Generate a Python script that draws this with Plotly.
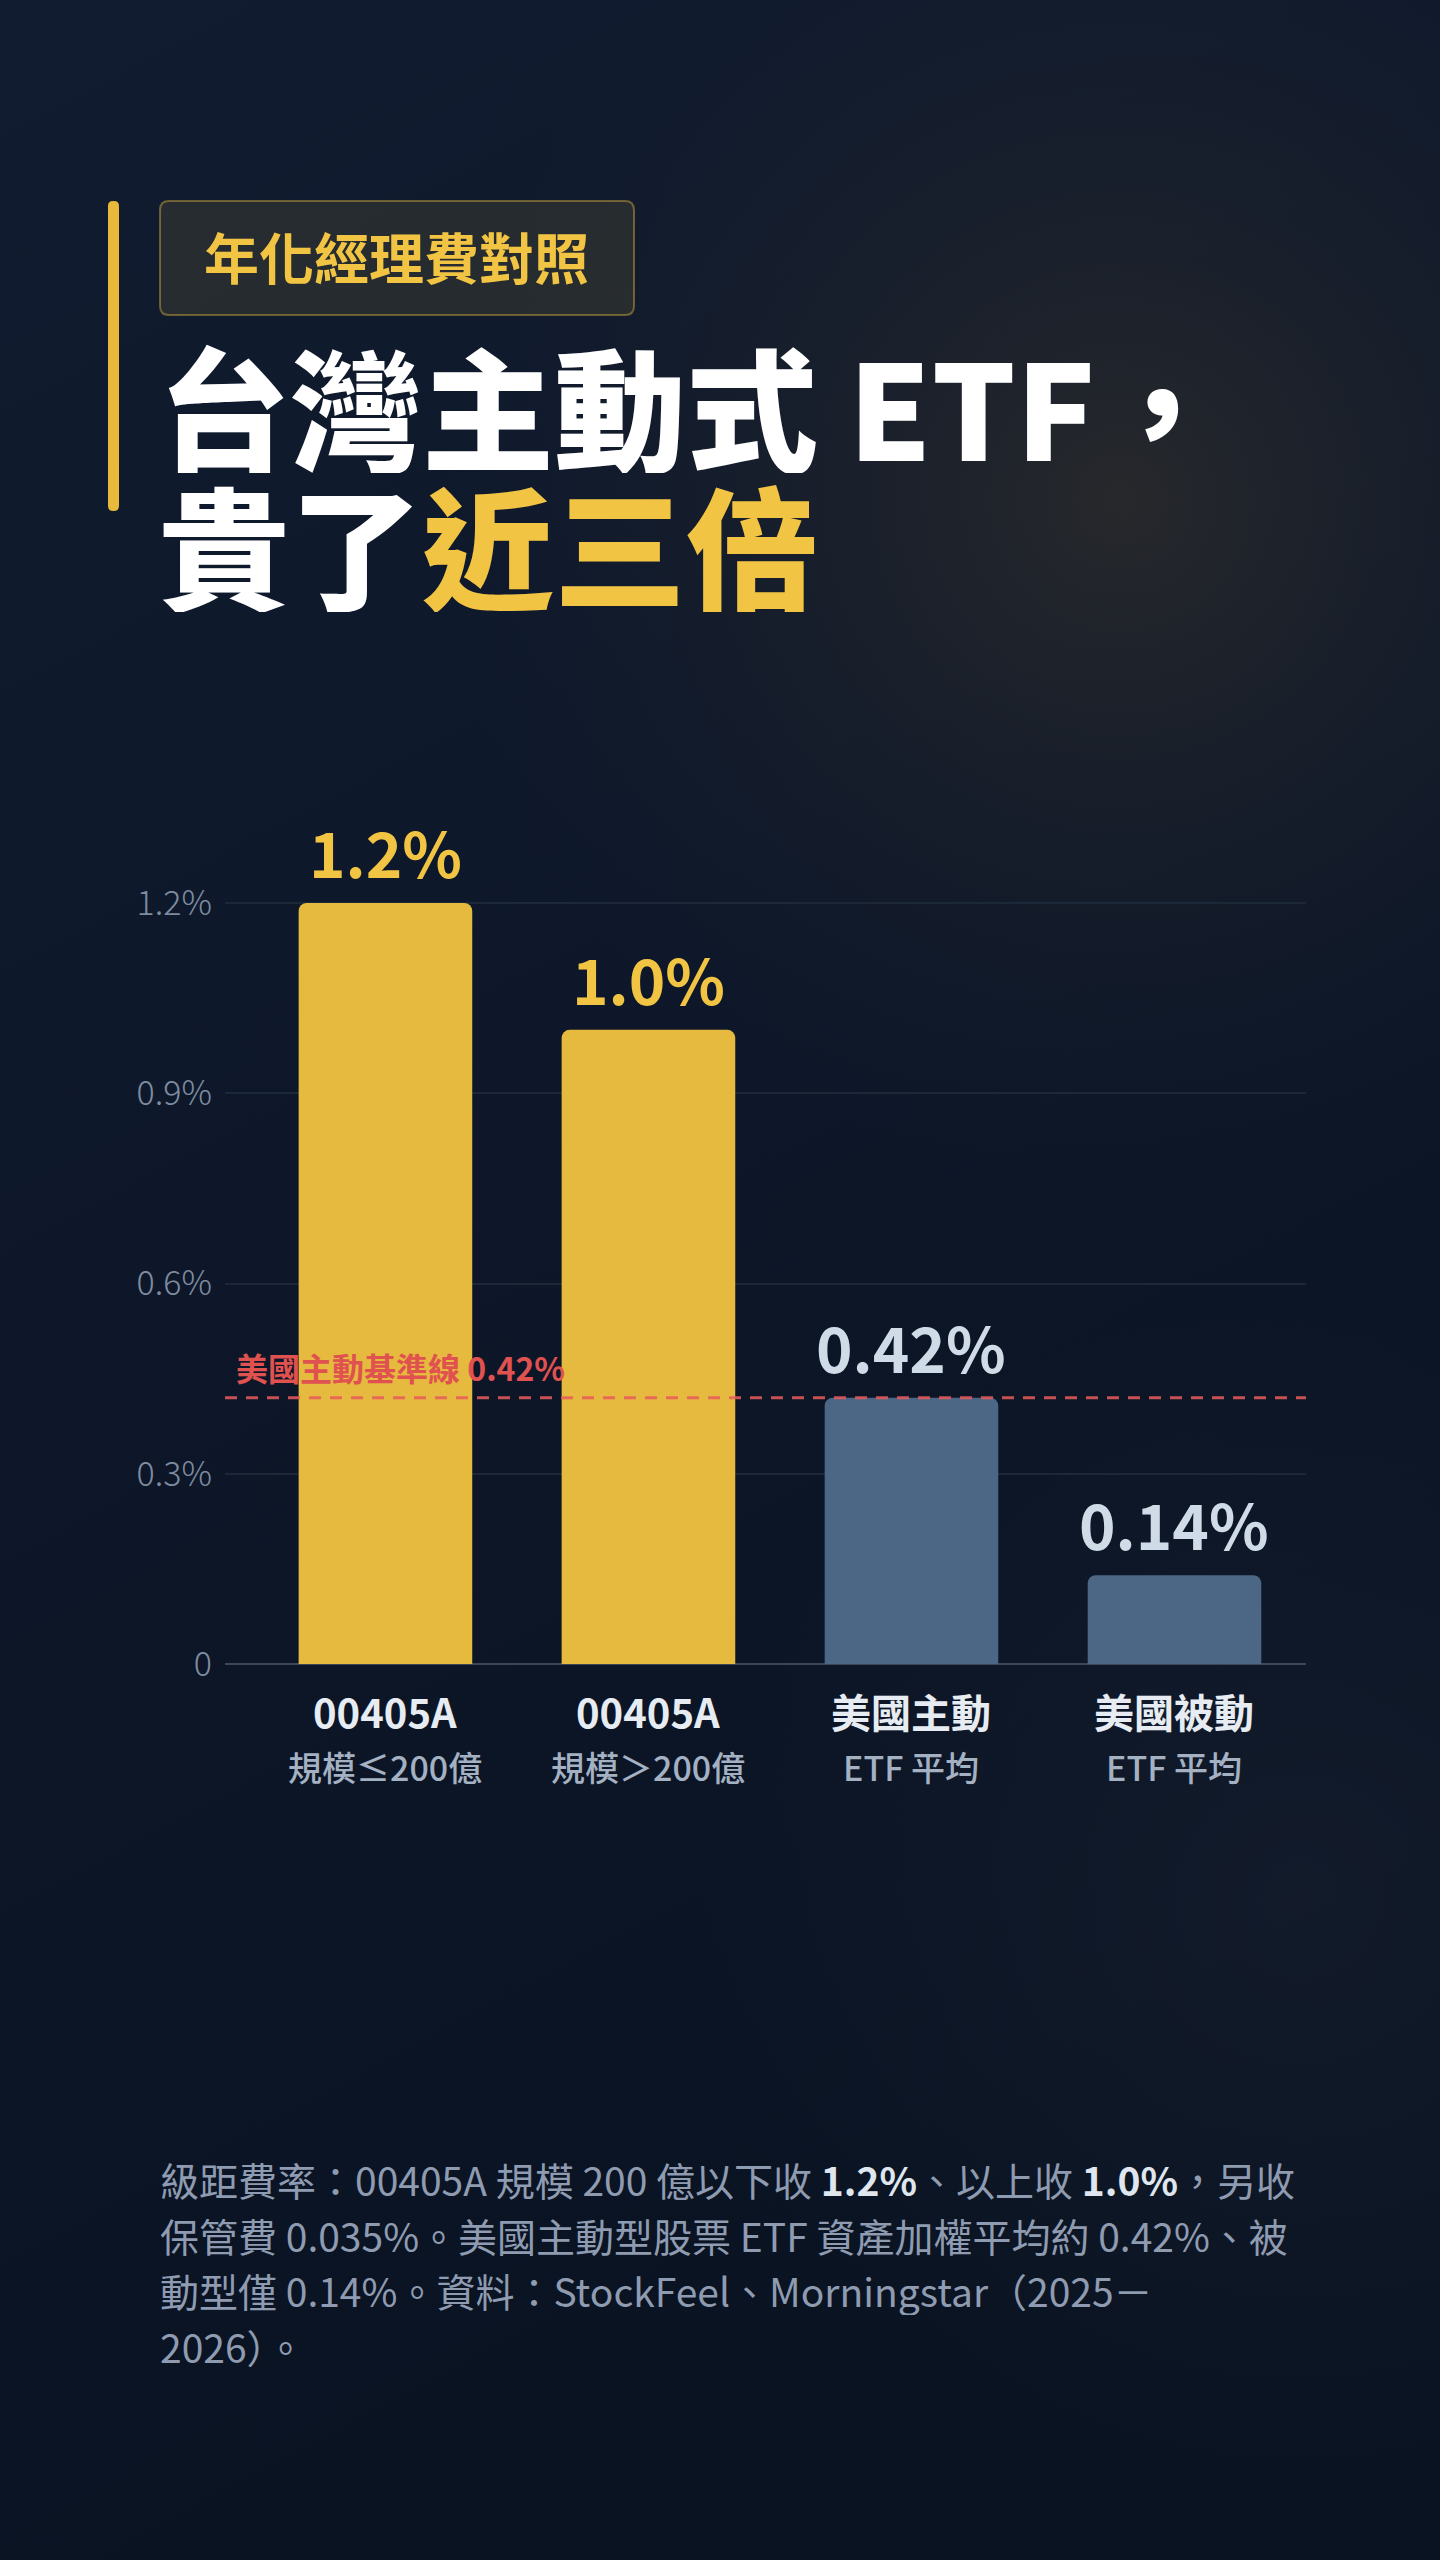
import base64
import plotly.graph_objects as go

# ---------------- data ----------------
category_keys = ["00405A 規模≤200億", "00405A 規模＞200億", "美國主動 ETF 平均", "美國被動 ETF 平均"]
label_main = ["00405A", "00405A", "美國主動", "美國被動"]
label_sub = ["規模≤200億", "規模＞200億", "ETF 平均", "ETF 平均"]
fee_values = [1.2, 1.0, 0.42, 0.14]
value_labels = ["1.2%", "1.0%", "0.42%", "0.14%"]
y_tick_vals = [0, 0.3, 0.6, 0.9, 1.2]
y_tick_text = ["0", "0.3%", "0.6%", "0.9%", "1.2%"]
benchmark_value = 0.42
benchmark_label = "美國主動基準線 0.42%"

badge_text = "年化經理費對照"
title_line1 = "台灣主動式 ETF，"
title_line2_white = "貴了"
title_line2_gold = "近三倍"
footnote_lines = [
    "級距費率：00405A 規模 200 億以下收 <b style='color:#dfe6ee'>1.2%</b>、以上收 <b style='color:#dfe6ee'>1.0%</b>，另收",
    "保管費 0.035%。美國主動型股票 ETF 資產加權平均約 0.42%、被",
    "動型僅 0.14%。資料：StockFeel、Morningstar（2025－",
    "2026）。",
]

# ---------------- style ----------------
W, H = 1440, 2560
FONT = "Noto Sans CJK TC, Noto Sans CJK SC, Noto Sans, sans-serif"
GOLD = "#f2c443"
GOLD_BAR = "#e6b93f"
BLUE_BAR = "#4c6685"
bar_colors = [GOLD_BAR, GOLD_BAR, BLUE_BAR, BLUE_BAR]
value_colors = [GOLD, GOLD, "#cfdbe7", "#cfdbe7"]


def px_x(x):
    return x / W


def px_y(y):
    return 1 - y / H


def rounded_rect(x0, y0, x1, y1, r):
    # pixel coords (top-left origin) -> paper path
    def P(x, y):
        return f"{px_x(x):.6f},{px_y(y):.6f}"
    return (
        f"M {P(x0 + r, y0)} L {P(x1 - r, y0)} Q {P(x1, y0)} {P(x1, y0 + r)} "
        f"L {P(x1, y1 - r)} Q {P(x1, y1)} {P(x1 - r, y1)} "
        f"L {P(x0 + r, y1)} Q {P(x0, y1)} {P(x0, y1 - r)} "
        f"L {P(x0, y0 + r)} Q {P(x0, y0)} {P(x0 + r, y0)} Z"
    )


bg_svg = f"""<svg xmlns="http://www.w3.org/2000/svg" width="{W}" height="{H}" viewBox="0 0 {W} {H}" preserveAspectRatio="none">
<defs>
<linearGradient id="g" x1="0" y1="0" x2="0.3" y2="1">
<stop offset="0" stop-color="#111c30"/>
<stop offset="0.5" stop-color="#0d1729"/>
<stop offset="1" stop-color="#0a1322"/>
</linearGradient>
<radialGradient id="r" cx="1120" cy="500" r="680" gradientUnits="userSpaceOnUse">
<stop offset="0" stop-color="#2b2b2c" stop-opacity="0.85"/>
<stop offset="0.5" stop-color="#24262b" stop-opacity="0.4"/>
<stop offset="1" stop-color="#1c2230" stop-opacity="0"/>
</radialGradient>
<radialGradient id="r2" cx="1300" cy="1900" r="600" gradientUnits="userSpaceOnUse">
<stop offset="0" stop-color="#1a2232" stop-opacity="0.5"/>
<stop offset="1" stop-color="#1a2232" stop-opacity="0"/>
</radialGradient>
</defs>
<rect width="{W}" height="{H}" fill="url(#g)"/>
<rect width="{W}" height="{H}" fill="url(#r)"/>
<rect width="{W}" height="{H}" fill="url(#r2)"/>
</svg>"""
bg_uri = "data:image/svg+xml;base64," + base64.b64encode(bg_svg.encode("utf-8")).decode("ascii")

# plot area in pixels
PLOT_L, PLOT_R = 225, 1306
ZERO_Y = 1664
PX_PER_UNIT = (1664 - 903) / 1.2
Y_MAX = 1.35
PLOT_T = ZERO_Y - Y_MAX * PX_PER_UNIT

fig = go.Figure()
fig.add_trace(go.Bar(
    x=category_keys,
    y=fee_values,
    width=0.66,
    marker=dict(color=bar_colors, cornerradius=8, line=dict(width=0)),
    hoverinfo="skip",
    showlegend=False,
))

annotations = []
# value labels
for k, v, t, c in zip(category_keys, fee_values, value_labels, value_colors):
    annotations.append(dict(
        x=k, y=v, xref="x", yref="y", text=f"<b>{t}</b>", showarrow=False,
        xanchor="center", yanchor="bottom", yshift=5,
        font=dict(family=FONT, size=62, color=c, weight=700),
    ))
# category labels
for k, m, s in zip(category_keys, label_main, label_sub):
    annotations.append(dict(
        x=k, y=px_y(1711), xref="x", yref="paper", text=f"<b>{m}</b>", showarrow=False,
        xanchor="center", yanchor="middle", height=48,
        font=dict(family=FONT, size=40, color="#e6ecf2", weight=700),
    ))
    annotations.append(dict(
        x=k, y=px_y(1766), xref="x", yref="paper", text=s, showarrow=False,
        xanchor="center", yanchor="middle", height=42,
        font=dict(family=FONT, size=34, color="#a3b1c2", weight=500),
    ))
# benchmark label
annotations.append(dict(
    x=px_x(234), y=benchmark_value, xref="paper", yref="y", text=f"<b>{benchmark_label}</b>",
    showarrow=False, xanchor="left", yanchor="bottom", yshift=6,
    font=dict(family=FONT, size=32, color="#e0524f", weight=700),
))
# badge text
annotations.append(dict(
    x=px_x(396), y=px_y(255), xref="paper", yref="paper", text=f"<b>{badge_text}</b>",
    showarrow=False, xanchor="center", yanchor="middle", height=60,
    font=dict(family=FONT, size=55, color=GOLD, weight=700),
))
# title
annotations.append(dict(
    x=px_x(156), y=px_y(403), xref="paper", yref="paper", text=title_line1,
    showarrow=False, xanchor="left", yanchor="middle", height=140,
    font=dict(family=FONT, size=132, color="#ffffff", weight=900),
))
annotations.append(dict(
    x=px_x(156), y=px_y(542), xref="paper", yref="paper",
    text=f"{title_line2_white}<span style='color:{GOLD}'>{title_line2_gold}</span>",
    showarrow=False, xanchor="left", yanchor="middle", height=140,
    font=dict(family=FONT, size=132, color="#ffffff", weight=900),
))
# footnote
for i, line in enumerate(footnote_lines):
    annotations.append(dict(
        x=px_x(158), y=px_y(2179 + i * 55.6), xref="paper", yref="paper", text=line,
        showarrow=False, xanchor="left", yanchor="middle", align="left", height=50,
        font=dict(family=FONT, size=39, color="#8e9bb0"),
    ))

shapes = [
    # accent bar
    dict(type="path", xref="paper", yref="paper", path=rounded_rect(108, 201, 119, 511, 5),
         fillcolor="#e9b93c", line=dict(width=0), layer="below"),
    # badge
    dict(type="path", xref="paper", yref="paper", path=rounded_rect(160, 201, 634, 315, 9),
         fillcolor="rgba(240,192,64,0.10)", line=dict(color="rgba(240,192,64,0.40)", width=2), layer="below"),
    # benchmark dashed line
    dict(type="line", xref="paper", yref="y", x0=px_x(PLOT_L), x1=px_x(PLOT_R),
         y0=benchmark_value, y1=benchmark_value,
         line=dict(color="rgba(232,90,90,0.85)", width=3, dash="12px,9px"), layer="above"),
]

fig.update_layout(
    template="none",
    width=W, height=H,
    autosize=False,
    margin=dict(l=0, r=0, t=0, b=0, pad=0, autoexpand=False),
    paper_bgcolor="#0d1729",
    plot_bgcolor="rgba(0,0,0,0)",
    font=dict(family=FONT),
    bargap=0.34,
    showlegend=False,
    images=[dict(source=bg_uri, xref="paper", yref="paper", x=0, y=1, sizex=1, sizey=1,
                 xanchor="left", yanchor="top", sizing="stretch", layer="below")],
    xaxis=dict(
        type="category", categoryorder="array", categoryarray=category_keys,
        range=[-0.61, 3.5], domain=[px_x(PLOT_L), px_x(PLOT_R)],
        showticklabels=False, showgrid=False, zeroline=False, showline=False, fixedrange=True,
        automargin=False, ticks="",
    ),
    yaxis=dict(
        range=[0, Y_MAX], domain=[px_y(ZERO_Y), px_y(PLOT_T)],
        tickvals=y_tick_vals, ticktext=y_tick_text,
        tickfont=dict(family=FONT, size=34, color="#7f8ca0", weight=300),
        ticks="", ticklabelstandoff=12,
        showgrid=True, gridcolor="#1c2738", gridwidth=2,
        zeroline=True, zerolinecolor="#3a4659", zerolinewidth=2,
        showline=False, fixedrange=True, automargin=False,
    ),
    annotations=annotations,
    shapes=shapes,
)

fig.write_html("out.html", config={"displayModeBar": False})
